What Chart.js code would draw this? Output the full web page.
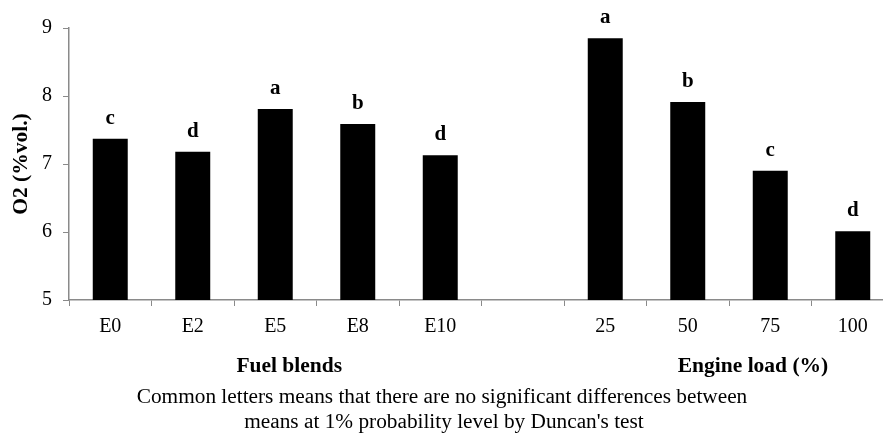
<!DOCTYPE html>
<html>
<head>
<meta charset="utf-8">
<script src="https://cdn.jsdelivr.net/npm/chart.js@4.4.1/dist/chart.umd.min.js"></script>
<style>
  html, body { margin: 0; padding: 0; background: #fff; overflow: hidden; }
  #wrap { width: 883px; height: 434px; overflow: hidden; }
</style>
</head>
<body>
<div id="wrap"><canvas id="o2Chart" width="900" height="434"></canvas></div>
<script>
// O2 by fuel blend and by engine load
const fuelLabels = ['E0', 'E2', 'E5', 'E8', 'E10'];
const fuelValues = [7.37, 7.18, 7.81, 7.59, 7.13];
const fuelLetters = ['c', 'd', 'a', 'b', 'd'];

const loadLabels = ['25', '50', '75', '100'];
const loadValues = [8.85, 7.91, 6.90, 6.01];
const loadLetters = ['a', 'b', 'c', 'd'];

const yTicks = [5, 6, 7, 8, 9];

const groupTitles = ['Fuel blends', 'Engine load (%)'];
const captionLines = [
    'Common letters means that there are no significant differences between',
    "means at 1% probability level by Duncan's test"
];

// one empty slot between the two groups
const labels = [...fuelLabels, '', ...loadLabels];
const values = [...fuelValues, null, ...loadValues];
const letters = [...fuelLetters, '', ...loadLetters];

const serif = '"Liberation Serif", "Times New Roman", serif';
const axisGray = '#8a8a8a';

// letters over bars + group titles + note under the chart
const annotatePlugin = {
    id: 'annotate',
    afterDatasetsDraw(chart) {
        const ctx = chart.ctx;
        const meta = chart.getDatasetMeta(0);
        ctx.save();
        ctx.fillStyle = '#000';
        ctx.textAlign = 'center';
        ctx.textBaseline = 'alphabetic';
        ctx.font = 'bold 21px ' + serif;
        meta.data.forEach((bar, i) => {
            if (!letters[i] || values[i] === null) return;
            ctx.fillText(letters[i], bar.x, bar.y - 15);
        });

        const x = chart.scales.x;
        const fuelMid = (x.getPixelForValue(0) + x.getPixelForValue(fuelLabels.length - 1)) / 2;
        const loadMid = (x.getPixelForValue(fuelLabels.length + 1) + x.getPixelForValue(labels.length - 1)) / 2;
        ctx.textBaseline = 'middle';
        ctx.font = 'bold 21.5px ' + serif;
        ctx.fillText(groupTitles[0], fuelMid + 14, 366);
        ctx.fillText(groupTitles[1], loadMid + 24, 366);

        ctx.font = '21.3px ' + serif;
        ctx.fillText(captionLines[0], 442, 397);
        ctx.fillText(captionLines[1], 444, 422);
        ctx.restore();
    }
};

const ctx = document.getElementById('o2Chart').getContext('2d');
new Chart(ctx, {
    type: 'bar',
    data: {
        labels: labels,
        datasets: [{
            label: 'O2 (%vol.)',
            data: values,
            backgroundColor: '#000',
            borderWidth: 0,
            categoryPercentage: 1.0,
            barPercentage: 0.424
        }]
    },
    options: {
        responsive: false,
        animation: false,
        layout: { padding: { top: 28, right: 6, left: 0, bottom: 0 } },
        plugins: {
            legend: { display: false },
            tooltip: { enabled: false }
        },
        scales: {
            x: {
                afterFit: (scale) => { scale.height = 134; },
                grid: {
                    offset: true,
                    drawOnChartArea: false,
                    tickLength: 6,
                    color: axisGray
                },
                border: { color: axisGray, width: 1.5 },
                ticks: {
                    color: '#000',
                    font: { family: serif, size: 20 },
                    padding: 9,
                    maxRotation: 0,
                    autoSkip: false
                }
            },
            y: {
                min: 5,
                max: 9,
                afterFit: (scale) => { scale.width = 69; },
                afterBuildTicks: (scale) => { scale.ticks = yTicks.map(v => ({ value: v })); },
                grid: {
                    drawOnChartArea: false,
                    tickLength: 6,
                    color: axisGray
                },
                border: { color: axisGray, width: 1.5 },
                ticks: {
                    color: '#000',
                    font: { family: serif, size: 20 },
                    padding: 11
                },
                title: {
                    display: true,
                    text: 'O2 (%vol.)',
                    color: '#000',
                    font: { family: serif, size: 21.5, weight: 'bold' },
                    padding: { top: 9, bottom: 0 }
                }
            }
        }
    },
    plugins: [annotatePlugin]
});
</script>
</body>
</html>
